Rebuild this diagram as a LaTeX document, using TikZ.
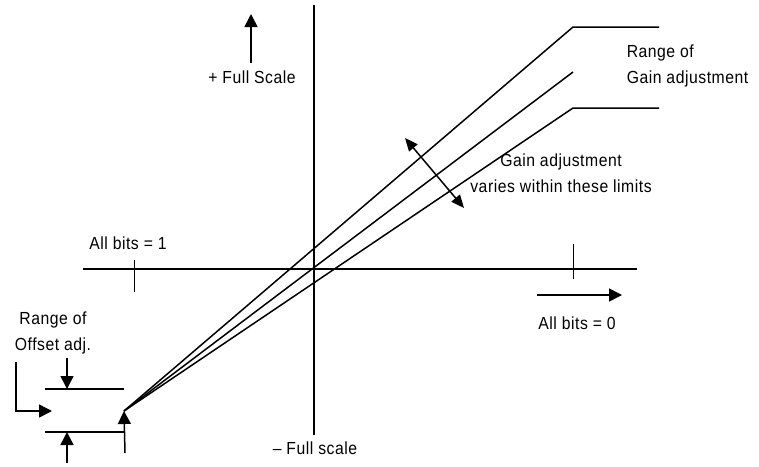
\documentclass[tikz,border=0pt]{standalone}
\usepackage{fontspec}
\setmainfont{Liberation Sans}[LetterSpace=3,FakeStretch=0.9]
\usetikzlibrary{arrows.meta}

\begin{document}
\begin{tikzpicture}[
  x=1pt, y=-1pt,
  line width=1.5pt,
  lbl/.style={font=\fontsize{17.5}{26}\selectfont,inner sep=0pt},
  arrow/.style={-{Triangle[length=13pt,width=13pt]}},
  gain/.style={{Triangle[length=13pt,width=11pt]}-{Triangle[length=13pt,width=11pt]}},
  tick/.style={line width=1pt}
]
\useasboundingbox (0,0) rectangle (759,466);

\coordinate (ytop) at (314,5);
\coordinate (ybot) at (314,435);
\coordinate (xleft) at (83,269);
\coordinate (xright) at (637,269);
\coordinate (O) at (124,411);
\coordinate (hi) at (573,27);
\coordinate (mid) at (573,72);
\coordinate (lo) at (573,108);

\node[lbl] (pfs) at (252,77) {+ Full Scale};
\node[lbl] (mfs) at (315,448) {-- Full scale};
\node[lbl] (ones) at (128,243) {All bits = 1};
\node[lbl] (zeros) at (577,323) {All bits = 0};
\node[lbl,align=left,anchor=west] (grange) at (626,66) {Range of\\Gain adjustment};
\node[lbl,align=center] (gvary) at (561,173) {Gain adjustment\\varies within these limits};
\node[lbl,align=center] (orange) at (53,333) {Range of\\Offset adj.};

\draw (ytop) -- (ybot);
\draw (xleft) -- (xright);
\draw[tick] (134,260) -- (134,292);
\draw[tick] (573,244) -- (573,279);

\draw[arrow] (251,63) -- (251,14);
\draw[arrow] (537,295) -- (622,295);

\draw (O) -- (hi) -- (659,27);
\draw (O) -- (mid);
\draw (O) -- (lo) -- (659,108);
\draw[gain] (405,138) -- (464,208);

\draw (45,389) -- (124,389);
\draw (45,432) -- (125,432);
\draw[arrow] (67,358) -- (67,389);
\draw[arrow] (67,463) -- (67,432);
\draw[arrow] (125,453) -- (O);
\draw[arrow] (16,362) |- (52,411);
\end{tikzpicture}
\end{document}
